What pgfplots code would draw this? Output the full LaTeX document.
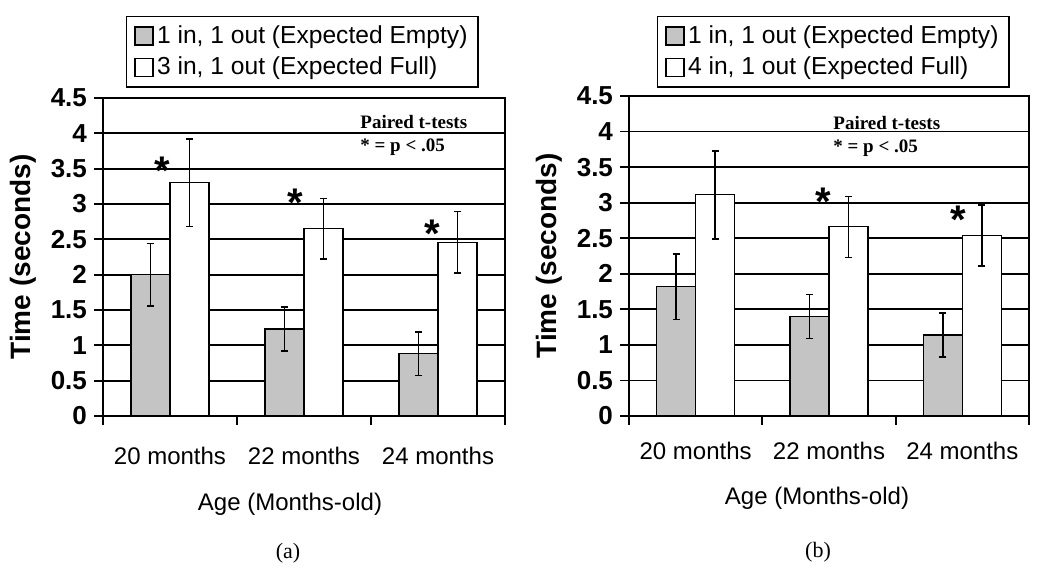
\documentclass[border=0pt]{standalone}
\usepackage{pgfplots}
\pgfplotsset{compat=1.18}
\usepackage{pgfplotstable}
\usepackage{fontspec}
\setmainfont{Liberation Sans}
\newfontfamily\timesf{Liberation Serif}
\definecolor{barfill}{RGB}{196,196,196}

\pgfplotstableread{
x g ge w we
0 2.00 0.44 3.30 0.62
1 1.23 0.31 2.65 0.43
2 0.88 0.31 2.46 0.435
}\dataA
\pgfplotstableread{
x g ge w we
0 1.82 0.46 3.11 0.62
1 1.40 0.31 2.66 0.43
2 1.14 0.31 2.54 0.43
}\dataB

\pgfplotsset{
  panel/.style={
    scale only axis,
    ybar=0pt, bar width=19.5pt,
    xmin=-0.5, xmax=2.5, ymin=0, ymax=4.5,
    enlargelimits=false,
    axis line style={line width=0.9pt, black},
    ymajorgrids, xmajorgrids=false,
    major grid style={line width=0.85pt, black},
    ytick={0,0.5,1,1.5,2,2.5,3,3.5,4,4.5},
    ytick pos=left, xtick pos=left,
    tick align=outside,
    major tick length=4.5pt,
    tick style={line width=0.9pt, black},
    xtick={-0.5,0.5,1.5,2.5},
    xticklabels={},
    extra x ticks={0,1,2},
    extra x tick labels={20 months, 22 months, 24 months},
    extra x tick style={major tick length=0pt, grid=none},
    /pgf/number format/assume math mode=true,
    yticklabel style={font=\bfseries\fontsize{13}{13}\selectfont},
    xticklabel style={font=\fontsize{12}{14}\selectfont},
    ylabel={Time (seconds)},
    xlabel={Age (Months-old)},
    ylabel style={font=\bfseries\fontsize{14}{16}\selectfont, at={(axis description cs:0,0.5)}, anchor=center, rotate=0, yshift=40pt},
    legend style={draw=black, line width=0.7pt, font=\fontsize{12.3}{14}\selectfont,
      inner xsep=3.5pt, inner ysep=2pt, row sep=0.3pt,
      nodes={inner xsep=1.8pt, inner ysep=2.5pt}, cells={anchor=west}},
    legend cell align=left,
  },
  gbar/.style={fill=barfill, draw=black, line width=0.6pt,
    legend image code/.code={\draw[fill=barfill,draw=black,line width=0.9pt] (0pt,-4.5pt) rectangle (9pt,4.5pt);},
    error bars/.cd, y dir=both, y explicit,
    error bar style={line width=0.75pt, black},
    error mark options={rotate=90, mark size=1.75pt, line width=0.75pt, black}},
  wbar/.style={fill=white, draw=black, line width=0.6pt,
    legend image code/.code={\draw[fill=white,draw=black,line width=0.9pt] (0pt,-4.5pt) rectangle (9pt,4.5pt);},
    error bars/.cd, y dir=both, y explicit,
    error bar style={line width=0.75pt, black},
    error mark options={rotate=90, mark size=1.75pt, line width=0.75pt, black}},
}

\begin{document}
\begin{tikzpicture}
\path[use as bounding box] (0,0) rectangle (525pt,288.5pt);

\begin{axis}[panel, at={(51.5pt,80.5pt)}, anchor=south west, width=201pt, height=159pt,
  extra x tick style={major tick length=0pt, grid=none, tick label style={yshift=-12pt}},
  xlabel style={font=\fontsize{12}{14}\selectfont, at={(axis description cs:0.5,0)}, anchor=center, yshift=-44pt, xshift=-7pt},
  legend style={at={(axis description cs:0,1)}, anchor=north west, xshift=11.5pt, yshift=41pt}]
\addplot[gbar] table[x=x, y=g, y error=ge] {\dataA};
\addplot[wbar] table[x=x, y=w, y error=we] {\dataA};
\legend{{1 in, 1 out (Expected Empty)}, {3 in, 1 out (Expected Full)}}
\node[anchor=west, inner sep=0pt, font=\timesf\bfseries\fontsize{9.5}{11}\selectfont] at (axis cs:1.418,4.16) {Paired t-tests};
\node[anchor=west, inner sep=0pt, font=\timesf\bfseries\fontsize{9.5}{11}\selectfont] at (axis cs:1.418,3.80) {* = p < .05};
\node[anchor=base, inner sep=0pt, font=\bfseries\fontsize{20}{20}\selectfont] at (axis cs:-0.06,3.27) {*};
\node[anchor=base, inner sep=0pt, font=\bfseries\fontsize{20}{20}\selectfont] at (axis cs:0.933,2.82) {*};
\node[anchor=base, inner sep=0pt, font=\bfseries\fontsize{20}{20}\selectfont] at (axis cs:1.96,2.39) {*};
\end{axis}

\begin{axis}[panel, at={(314.5pt,80.5pt)}, anchor=south west, width=200pt, height=160pt,
  extra x tick style={major tick length=0pt, grid=none, tick label style={yshift=-9.5pt}},
  xlabel style={font=\fontsize{12}{14}\selectfont, at={(axis description cs:0.5,0)}, anchor=center, yshift=-41pt, xshift=-6pt},
  legend style={at={(axis description cs:0,1)}, anchor=north west, xshift=14pt, yshift=40pt}]
\addplot[gbar] table[x=x, y=g, y error=ge] {\dataB};
\addplot[wbar] table[x=x, y=w, y error=we] {\dataB};
\legend{{1 in, 1 out (Expected Empty)}, {4 in, 1 out (Expected Full)}}
\node[anchor=west, inner sep=0pt, font=\timesf\bfseries\fontsize{9.5}{11}\selectfont] at (axis cs:1.03,4.12) {Paired t-tests};
\node[anchor=west, inner sep=0pt, font=\timesf\bfseries\fontsize{9.5}{11}\selectfont] at (axis cs:1.03,3.77) {* = p < .05};
\node[anchor=base, inner sep=0pt, font=\bfseries\fontsize{20}{20}\selectfont] at (axis cs:0.958,2.82) {*};
\node[anchor=base, inner sep=0pt, font=\bfseries\fontsize{20}{20}\selectfont] at (axis cs:1.97,2.565) {*};
\end{axis}

\node[font=\timesf\fontsize{11}{13}\selectfont] at (144pt,12pt) {(a)};
\node[font=\timesf\fontsize{11}{13}\selectfont] at (409pt,12.5pt) {(b)};
\end{tikzpicture}
\end{document}
